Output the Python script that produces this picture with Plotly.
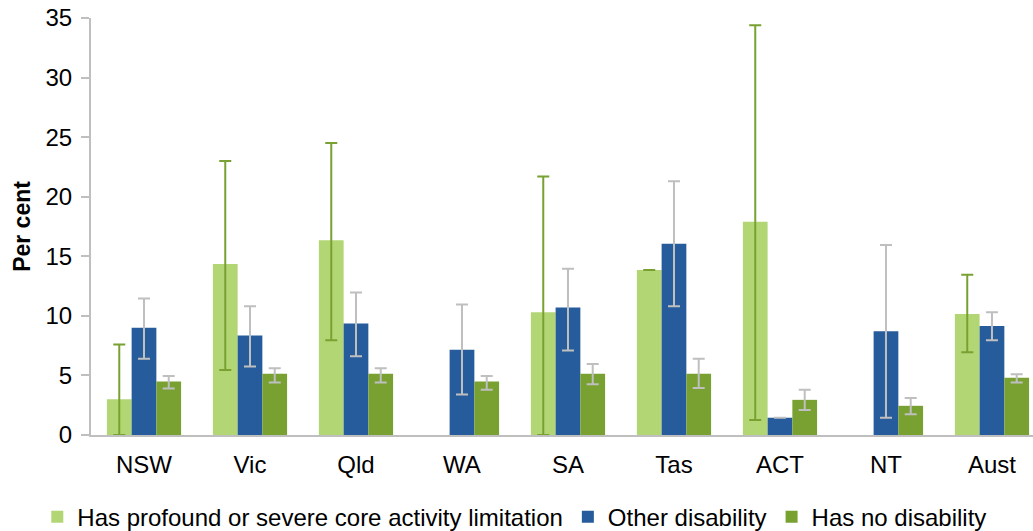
import plotly.graph_objects as go

categories = ["NSW", "Vic", "Qld", "WA", "SA", "Tas", "ACT", "NT", "Aust"]

profound = [3.0, 14.35, 16.35, None, 10.3, 13.85, 17.9, None, 10.15]
profound_lo = [0.0, 5.45, 7.95, None, 0.0, 13.85, 1.25, None, 6.95]
profound_hi = [7.6, 23.0, 24.5, None, 21.7, 13.85, 34.4, None, 13.45]

other = [9.0, 8.35, 9.35, 7.15, 10.7, 16.05, 1.45, 8.7, 9.15]
other_lo = [6.4, 5.75, 6.6, 3.4, 7.1, 10.8, 1.45, 1.45, 7.95]
other_hi = [11.45, 10.8, 11.95, 10.95, 13.95, 21.3, 1.45, 15.95, 10.3]

nodis = [4.5, 5.15, 5.15, 4.5, 5.15, 5.15, 2.95, 2.45, 4.8]
nodis_lo = [3.9, 4.4, 4.4, 3.8, 4.25, 3.95, 2.1, 1.75, 4.4]
nodis_hi = [4.95, 5.6, 5.6, 4.95, 5.95, 6.4, 3.8, 3.1, 5.1]

series = [
    ("Has profound or severe core activity limitation", profound, profound_lo, profound_hi, "#B3D675", "#78A132"),
    ("Other disability", other, other_lo, other_hi, "#265C9B", "#BFBFBF"),
    ("Has no disability", nodis, nodis_lo, nodis_hi, "#78A132", "#BFBFBF"),
]

def diff(a, b):
    return [None if (x is None or y is None) else x - y for x, y in zip(a, b)]

fig = go.Figure()
for name, vals, lo, hi, col, ecol in series:
    fig.add_trace(go.Bar(
        x=categories, y=vals, name=name,
        marker=dict(color=col, line=dict(width=0)),
        error_y=dict(type="data", symmetric=False,
                     array=diff(hi, vals), arrayminus=diff(vals, lo),
                     color=ecol, thickness=2, width=6),
    ))

font_family = "Liberation Sans, Arial, sans-serif"
fig.update_layout(
    width=1033, height=531,
    margin=dict(l=91, r=0, t=18, b=96, autoexpand=False),
    paper_bgcolor="white", plot_bgcolor="white",
    barmode="group", bargap=0.30, bargroupgap=0,
    font=dict(family=font_family, size=24, color="black"),
    showlegend=True,
    legend=dict(orientation="h", x=-0.057, xanchor="left", y=-0.197, yanchor="middle",
                font=dict(size=24, color="black"), itemclick=False, tracegroupgap=0),
    xaxis=dict(range=[-0.5, 8.387], showline=True, linecolor="#BFBFBF", linewidth=2,
               ticks="", showgrid=False, zeroline=False, tickfont=dict(size=24),
               ticklabelstandoff=7, automargin=False),
    yaxis=dict(range=[0, 35], dtick=5, showline=True, linecolor="#BFBFBF", linewidth=2,
               ticks="outside", ticklen=8, tickcolor="#BFBFBF", tickwidth=1.5,
               showgrid=False, zeroline=False, tickfont=dict(size=24), automargin=False,
               ticklabelstandoff=4,
               title=dict(text="<b>Per cent</b>", font=dict(size=23), standoff=8)),
)

fig.write_html("out.html",
               config={"displayModeBar": False},
               post_script="document.body.style.margin='0';document.body.style.overflow='hidden';")
